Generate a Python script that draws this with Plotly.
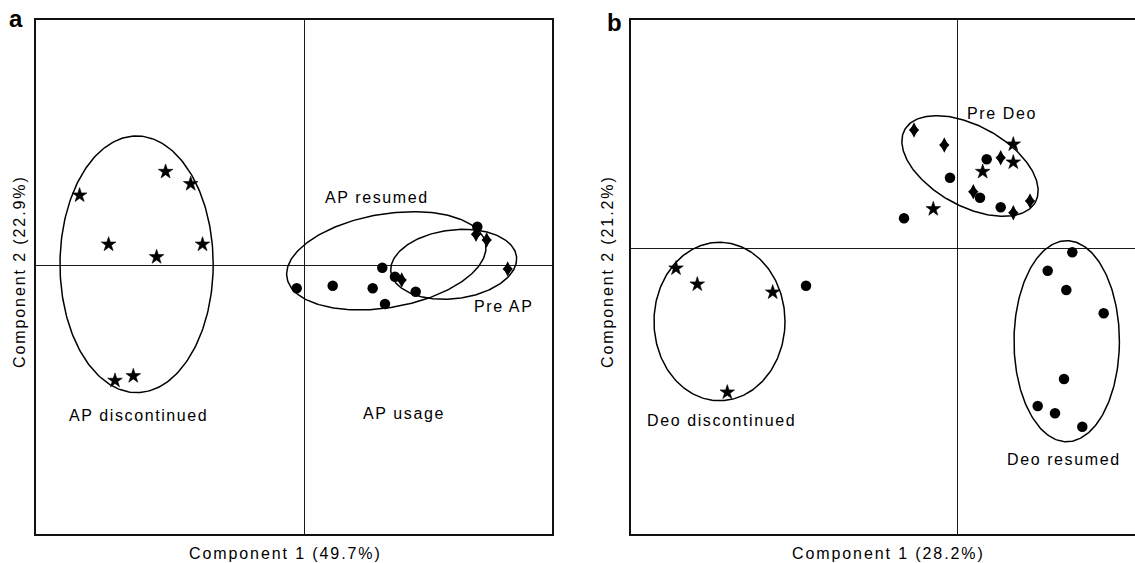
import numpy as np
import plotly.graph_objects as go

W, H = 1135, 563

# ---------------- Panel a data (component scores) ----------------
a_star_x = [-2.249, -1.389, -1.138, -1.959, -1.479, -1.020, -1.895, -1.712]
a_star_y = [0.700, 0.936, 0.814, 0.209, 0.083, 0.209, -1.153, -1.107]
a_circle_x = [-0.078, 0.282, 0.682, 0.778, 0.805, 0.905, 1.112, 1.728]
a_circle_y = [-0.230, -0.204, -0.230, -0.024, -0.387, -0.114, -0.264, 0.386]
a_diamond_x = [0.972, 1.715, 1.822, 2.032]
a_diamond_y = [-0.147, 0.310, 0.253, -0.037]

# ---------------- Panel b data ----------------
b_star_x = [0.558, 0.558, 0.252, -0.242, -2.815, -2.602, -1.848, -2.302]
b_star_y = [1.040, 0.860, 0.766, 0.393, -0.200, -0.360, -0.440, -1.440]
b_circle_x = [0.292, -0.075, 0.225, 0.432, -0.535, -1.515, 1.148, 0.902, 1.088,
              1.462, 1.065, 0.802, 0.975, 1.248]
b_circle_y = [0.890, 0.706, 0.506, 0.410, 0.300, -0.374, -0.040, -0.224, -0.417,
              -0.650, -1.307, -1.577, -1.650, -1.784]
b_diamond_x = [-0.435, -0.132, 0.432, 0.158, 0.725, 0.558]
b_diamond_y = [1.183, 1.033, 0.906, 0.566, 0.473, 0.356]

# group ellipses: centre x, centre y, semi-axis 1, semi-axis 2, rotation (deg)
a_ell_cx = [-1.679, 0.818, 1.492]
a_ell_cy = [0.010, 0.045, 0.010]
a_ell_r1 = [0.766, 1.008, 0.633]
a_ell_r2 = [1.283, 0.468, 0.344]
a_ell_rot = [0, 9.7, 7]

b_ell_cx = [-2.380, 0.125, 1.092]
b_ell_cy = [-0.732, 0.823, -0.929]
b_ell_r1 = [0.655, 0.747, 0.527]
b_ell_r2 = [0.792, 0.400, 1.005]
b_ell_rot = [0, -29, 0]

# group labels
a_labels = ["AP resumed", "Pre AP", "AP discontinued", "AP usage"]
a_label_x = [0.722, 1.988, -1.663, 0.995]
a_label_y = [0.680, -0.414, -1.497, -1.486]
b_labels = ["Pre Deo", "Deo discontinued", "Deo resumed"]
b_label_x = [0.440, -2.358, 1.062]
b_label_y = [1.350, -1.724, -2.110]

a_xtitle, a_ytitle = "Component 1 (49.7%)", "Component 2 (22.9%)"
b_xtitle, b_ytitle = "Component 1 (28.2%)", "Component 2 (21.2%)"

FONT = "Liberation Sans, Arial, Helvetica, sans-serif"


def spaced(t, ls=1.6):
    return f'<span style="letter-spacing:{ls}px">{t}</span>'


def ellipse_xy(cx, cy, r1, r2, rot):
    t = np.linspace(0, 2 * np.pi, 240)
    c, s = np.cos(np.radians(rot)), np.sin(np.radians(rot))
    ex = cx + r1 * np.cos(t) * c - r2 * np.sin(t) * s
    ey = cy + r1 * np.cos(t) * s + r2 * np.sin(t) * c
    return ex, ey


fig = go.Figure()


def add_panel(xa, ya, sx, sy, cx, cy, dx, dy, ecx, ecy, er1, er2, erot):
    for i in range(len(ecx)):
        ex, ey = ellipse_xy(ecx[i], ecy[i], er1[i], er2[i], erot[i])
        fig.add_trace(go.Scatter(x=ex, y=ey, mode="lines", xaxis=xa, yaxis=ya,
                                 line=dict(color="black", width=1.5),
                                 hoverinfo="skip"))
    fig.add_trace(go.Scatter(x=cx, y=cy, mode="markers", xaxis=xa, yaxis=ya,
                             marker=dict(symbol="circle", size=10.5, color="black",
                                         line=dict(width=0))))
    # diamonds: a tall diamond merged with a square diamond -> ~10 x 15 px rhombus
    fig.add_trace(go.Scatter(x=dx, y=dy, mode="markers", xaxis=xa, yaxis=ya,
                             marker=dict(symbol="diamond-tall", size=11, color="black",
                                         line=dict(width=0))))
    fig.add_trace(go.Scatter(x=dx, y=dy, mode="markers", xaxis=xa, yaxis=ya,
                             marker=dict(symbol="diamond", size=8, color="black",
                                         line=dict(width=0))))
    fig.add_trace(go.Scatter(x=sx, y=sy, mode="markers", xaxis=xa, yaxis=ya,
                             marker=dict(symbol="star", size=11, color="black",
                                         line=dict(width=0.6, color="black"))))


add_panel("x", "y", a_star_x, a_star_y, a_circle_x, a_circle_y,
          a_diamond_x, a_diamond_y, a_ell_cx, a_ell_cy, a_ell_r1, a_ell_r2, a_ell_rot)
add_panel("x2", "y2", b_star_x, b_star_y, b_circle_x, b_circle_y,
          b_diamond_x, b_diamond_y, b_ell_cx, b_ell_cy, b_ell_r1, b_ell_r2, b_ell_rot)

ydom = [1 - 533.7 / H, 1 - 19.7 / H]
axis_common = dict(showgrid=False, showticklabels=False, ticks="", zeroline=True,
                   zerolinecolor="#1a1a1a", zerolinewidth=1, showline=True,
                   linecolor="#111111", linewidth=1.5, fixedrange=True)

fig.update_layout(
    width=W, height=H,
    margin=dict(l=0, r=0, t=0, b=0),
    paper_bgcolor="white", plot_bgcolor="white",
    showlegend=False,
    xaxis=dict(domain=[36 / W, 552 / W], range=[-2.685, 2.475], mirror=True,
               anchor="y", **axis_common),
    yaxis=dict(domain=ydom, range=[-2.684, 2.456], mirror=True, anchor="x",
               **axis_common),
    xaxis2=dict(domain=[631.2 / W, 1.0], range=[-3.263, 1.775], mirror=True,
                anchor="y2", **axis_common),
    yaxis2=dict(domain=ydom, range=[-2.854, 2.286], mirror=False, anchor="x2",
                **axis_common),
)

ann = []
for t, x, y in zip(a_labels, a_label_x, a_label_y):
    ann.append(dict(text=spaced(t), x=x, y=y, xref="x", yref="y", showarrow=False,
                    font=dict(family=FONT, size=16, color="black")))
for t, x, y in zip(b_labels, b_label_x, b_label_y):
    ann.append(dict(text=spaced(t), x=x, y=y, xref="x2", yref="y2", showarrow=False,
                    font=dict(family=FONT, size=16, color="black")))


def paper(px, py):
    return px / W, 1 - py / H


for t, (px, py), ang in [(a_xtitle, (285.5, 553.5), 0), (b_xtitle, (888.5, 553.5), 0),
                         (a_ytitle, (19.5, 271.5), -90), (b_ytitle, (607.5, 271.5), -90)]:
    x, y = paper(px, py)
    ann.append(dict(text=spaced(t, 1.9), x=x, y=y, xref="paper", yref="paper",
                    showarrow=False, textangle=ang, xanchor="center", yanchor="middle",
                    font=dict(family=FONT, size=16, color="black")))

for t, (px, py) in [("a", (16, 19)), ("b", (614, 23))]:
    x, y = paper(px, py)
    ann.append(dict(text=f"<b>{t}</b>", x=x, y=y, xref="paper", yref="paper",
                    showarrow=False, xanchor="center", yanchor="middle",
                    font=dict(family=FONT, size=24, color="black")))

fig.update_layout(annotations=ann)
fig.write_html("out.html", config={"displayModeBar": False})
